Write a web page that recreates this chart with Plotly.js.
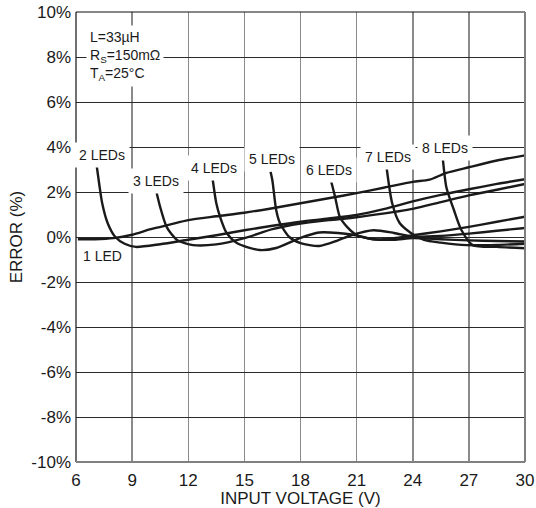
<!DOCTYPE html>
<html>
<head>
<meta charset="utf-8">
<script src="https://cdn.plot.ly/plotly-3.0.1.min.js"></script>
<style>html,body{margin:0;padding:0;background:#fff;}#chart{width:536px;height:508px;}</style>
</head>
<body>
<div id="chart"></div>
<script>
// ---- data ----
const xTickVals = [6, 9, 12, 15, 18, 21, 24, 27, 30];
const xTickText = ["6", "9", "12", "15", "18", "21", "24", "27", "30"];
const yTickVals = [-10, -8, -6, -4, -2, 0, 2, 4, 6, 8, 10];
const yTickText = ["-10%", "-8%", "-6%", "-4%", "-2%", "0%", "2%", "4%", "6%", "8%", "10%"];

const seriesNames = ["1 LED", "2 LEDs", "3 LEDs", "4 LEDs", "5 LEDs", "6 LEDs", "7 LEDs", "8 LEDs"];

const led1V = [6.1, 7, 8, 9, 10, 11, 12, 13.5, 15, 16.5, 18, 19.5, 21, 22.5, 24, 24.9, 25.8, 27, 28.5, 30];
const led1E = [-0.1, -0.1, -0.05, 0.1, 0.35, 0.55, 0.75, 0.92, 1.08, 1.28, 1.5, 1.72, 1.95, 2.2, 2.45, 2.55, 2.85, 3.1, 3.4, 3.63];

const led2V = [7.1, 7.25, 7.4, 7.7, 8.1, 8.6, 9.2, 10.5, 12, 13.5, 15, 16.5, 18, 19.5, 21, 22.5, 24, 25.5, 27, 28.5, 30];
const led2E = [3.2, 2.3, 1.5, 0.6, 0.0, -0.3, -0.44, -0.32, -0.12, 0.08, 0.3, 0.5, 0.68, 0.82, 0.98, 1.25, 1.58, 1.87, 2.12, 2.36, 2.57];

const led3V = [10.3, 10.5, 10.85, 11.4, 12.25, 13.5, 15, 16.5, 18, 19.5, 21, 22.5, 24, 25.5, 27, 28.5, 30];
const led3E = [2.0, 1.33, 0.44, -0.13, -0.36, -0.33, -0.05, 0.35, 0.6, 0.75, 0.88, 1.05, 1.25, 1.55, 1.85, 2.1, 2.36];

const led4V = [13.3, 13.5, 13.7, 14.05, 14.6, 15.8, 16.7, 18, 19, 20, 20.8, 21.9, 23, 24, 25.5, 27, 28.5, 30];
const led4E = [2.6, 1.5, 0.9, 0.18, -0.27, -0.58, -0.49, -0.04, 0.2, 0.18, 0.1, -0.1, -0.05, 0.08, 0.25, 0.45, 0.68, 0.9];

const led5V = [16.4, 16.5, 16.7, 16.9, 17.4, 18, 19, 20, 20.8, 21.9, 23, 24, 25.5, 27, 28.5, 30];
const led5E = [2.9, 2.5, 1.2, 0.62, 0.0, -0.27, -0.4, -0.15, 0.1, 0.3, 0.18, 0.02, 0.05, 0.15, 0.28, 0.4];

const led6V = [19.6, 19.85, 20.1, 20.5, 21, 21.9, 23, 24, 25.5, 27, 28.5, 30];
const led6E = [2.6, 1.78, 0.9, 0.44, 0.09, -0.1, -0.12, -0.05, -0.1, -0.15, -0.18, -0.2];

const led7V = [22.6, 22.9, 23.3, 23.9, 24.6, 25.5, 26.9, 28.5, 30];
const led7E = [3.1, 1.5, 0.62, 0.18, -0.13, -0.25, -0.36, -0.35, -0.3];

const led8V = [25.6, 25.8, 26.2, 26.6, 27.2, 28.5, 30];
const led8E = [3.55, 2.2, 1.2, 0.31, -0.36, -0.44, -0.5];

const conditionLines = ["L=33µH", "R<sub>S</sub>=150mΩ", "T<sub>A</sub>=25°C"];
const xTitle = "INPUT VOLTAGE (V)";
const yTitle = "ERROR (%)";

// ---- build ----
const FONT = "Liberation Sans, Arial, sans-serif";
const allV = [led1V, led2V, led3V, led4V, led5V, led6V, led7V, led8V];
const allE = [led1E, led2E, led3E, led4E, led5E, led6E, led7E, led8E];

const traces = allV.map((v, i) => ({
  x: v, y: allE[i], name: seriesNames[i], type: "scatter", mode: "lines",
  line: {color: "#1a1a1a", width: 2.4, shape: "spline", smoothing: 0.7},
  hoverinfo: "skip", showlegend: false
}));

// label anchor positions (data coords) for the curve labels
const labelPos = [
  [7.4, -0.84], [7.4, 3.64], [10.3, 2.49], [13.4, 3.07],
  [16.5, 3.47], [19.5, 3.0], [22.7, 3.55], [25.7, 3.96]
];
const annotations = seriesNames.map((t, i) => ({
  x: labelPos[i][0], y: labelPos[i][1], xref: "x", yref: "y",
  text: t, showarrow: false, bgcolor: i === 0 ? "rgba(0,0,0,0)" : "#ffffff",
  borderpad: 4, font: {family: FONT, size: 14, color: "#1a1a1a"}
}));
annotations.push({
  x: 0.022, y: 0.972, xref: "paper", yref: "paper", xanchor: "left", yanchor: "top",
  align: "left", text: conditionLines.join("<br>"), showarrow: false,
  bgcolor: "#ffffff", borderpad: 3,
  font: {family: FONT, size: 14, color: "#1a1a1a"}
});

const shapes = [
  {type: "line", xref: "paper", yref: "paper", x0: 0, x1: 1, y0: 1, y1: 1, line: {color: "#111", width: 1.2}},
  {type: "line", xref: "paper", yref: "paper", x0: 0, x1: 0, y0: 0, y1: 1, line: {color: "#111", width: 1.2}},
  {type: "line", xref: "paper", yref: "paper", x0: 1, x1: 1, y0: 0, y1: 1, line: {color: "#808080", width: 2}},
  {type: "line", xref: "paper", yref: "paper", x0: 0, x1: 1, y0: 0, y1: 0, line: {color: "#808080", width: 2}}
];

const layout = {
  width: 536, height: 508,
  margin: {l: 76, r: 11, t: 12, b: 46, pad: 0},
  paper_bgcolor: "#ffffff", plot_bgcolor: "#ffffff",
  font: {family: FONT, size: 17, color: "#1a1a1a"},
  showlegend: false,
  xaxis: {
    range: [6, 30], tickmode: "array", tickvals: xTickVals, ticktext: xTickText,
    showgrid: true, gridcolor: "#8a8a8a", gridwidth: 1.5, zeroline: false,
    showline: false, ticks: "", ticklabelstandoff: 6,
    tickfont: {family: FONT, size: 17, color: "#1a1a1a"},
    title: {text: xTitle, font: {family: FONT, size: 17, color: "#1a1a1a"}, standoff: 1},
    fixedrange: true
  },
  yaxis: {
    range: [-10, 10], tickmode: "array", tickvals: yTickVals, ticktext: yTickText,
    showgrid: true, gridcolor: "#2a2a2a", gridwidth: 1, zeroline: false,
    showline: false, ticks: "", ticklabelstandoff: 4,
    tickfont: {family: FONT, size: 17, color: "#1a1a1a"},
    title: {text: yTitle, font: {family: FONT, size: 17, color: "#1a1a1a"}, standoff: 4},
    fixedrange: true
  },
  annotations: annotations,
  shapes: shapes
};

Plotly.newPlot("chart", traces, layout, {displayModeBar: false, staticPlot: true});
</script>
</body>
</html>
